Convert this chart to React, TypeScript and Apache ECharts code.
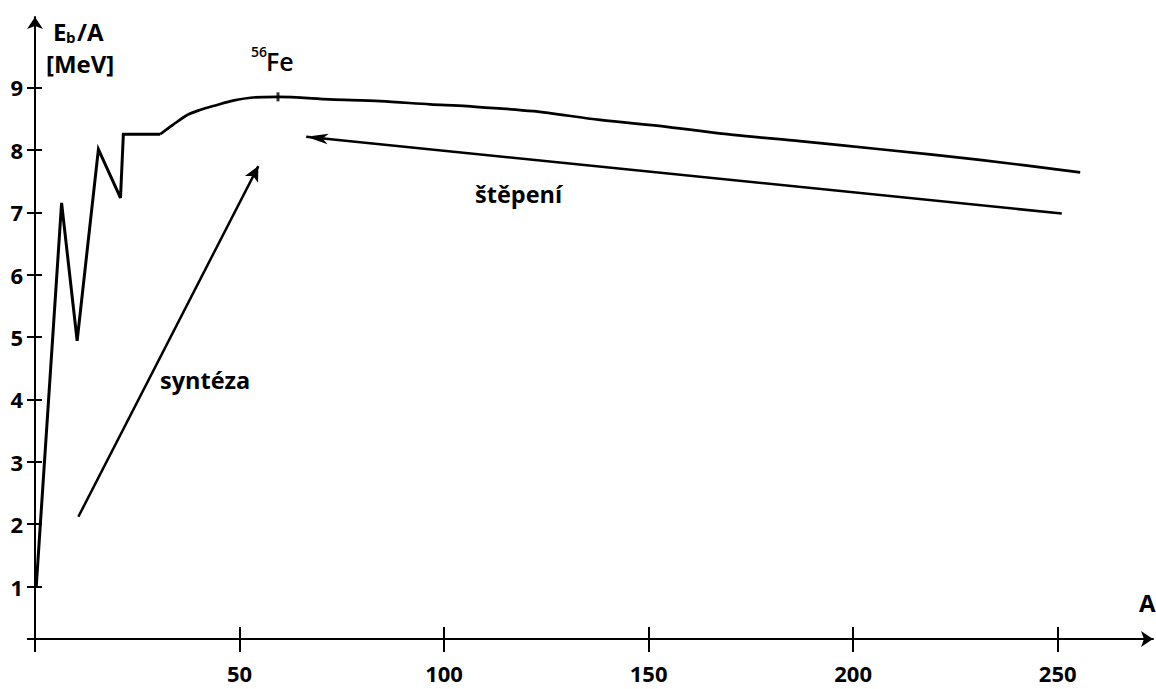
import React, { useEffect, useRef } from "react";
import * as echarts from "echarts";

// Binding energy per nucleon curve (A, Eb/A in MeV)
const lightA = [0.3, 6.5, 10.3, 15.5, 20.9, 21.6, 30.6];
const lightE = [1.0, 7.15, 4.94, 8.01, 7.23, 8.25, 8.25];
const heavyA = [30.6, 33.7, 37.2, 40.3, 44.5, 48.4, 53.3, 59.4, 72.1, 84.4, 96.6, 105.6, 121.8, 138.1, 154.5, 170.7, 187.0, 206.6, 231, 255.5];
const heavyE = [8.25, 8.4, 8.56, 8.64, 8.72, 8.79, 8.84, 8.85, 8.81, 8.78, 8.73, 8.7, 8.62, 8.48, 8.37, 8.24, 8.14, 8.01, 7.84, 7.64];
const ironPoint = [59.4, 8.85];
const synthesisArrow = [[10.6, 2.12], [54.6, 7.74]];
const fissionArrow = [[251, 6.98], [66.3, 8.21]];
const xTicks = [0, 50, 100, 150, 200, 250];
const xLabels = [50, 100, 150, 200, 250];
const yTicks = [1, 2, 3, 4, 5, 6, 7, 8, 9];

const X_MIN = 0;
const X_MAX = 273.3;
const Y_MIN = 0.16;
const Y_MAX = 10.13;

const FONT = "'Open Sans', 'Noto Sans', sans-serif";

export default function App() {
  const ref = useRef<HTMLDivElement>(null);
  useEffect(() => {
    document.body.style.margin = "0";
    const chart = echarts.init(ref.current!, null, { renderer: "svg" });
    const lineColor = "#000";
    const baseLabel = { color: "#000", fontFamily: FONT, fontWeight: "bold" as const };
    const option: any = {
      animation: false,
      backgroundColor: "#fff",
      grid: { left: 35, right: 3, top: 17, bottom: 50, containLabel: false },
      xAxis: [
        {
          type: "value",
          min: X_MIN,
          max: X_MAX,
          splitLine: { show: false },
          axisLine: { show: true, lineStyle: { color: lineColor, width: 2 }, symbol: ["none", "arrow"], symbolSize: [12, 12] },
          axisTick: { show: true, inside: false, length: 13, lineStyle: { color: lineColor, width: 2 }, customValues: xTicks },
          axisLabel: { ...baseLabel, fontSize: 22, margin: 23, customValues: xLabels },
        },
        {
          type: "value",
          min: X_MIN,
          max: X_MAX,
          position: "bottom",
          splitLine: { show: false },
          axisLine: { show: false },
          axisTick: { show: true, inside: true, length: 12, lineStyle: { color: lineColor, width: 2 }, customValues: xTicks },
          axisLabel: { show: false },
        },
      ],
      yAxis: [
        {
          type: "value",
          min: Y_MIN,
          max: Y_MAX,
          splitLine: { show: false },
          axisLine: { show: true, lineStyle: { color: lineColor, width: 2 }, symbol: ["none", "arrow"], symbolSize: [12, 12] },
          axisTick: { show: true, inside: false, length: 8, lineStyle: { color: lineColor, width: 2 }, customValues: [Y_MIN, ...yTicks] },
          axisLabel: { ...baseLabel, fontSize: 22, margin: 12, customValues: yTicks },
        },
        {
          type: "value",
          min: Y_MIN,
          max: Y_MAX,
          position: "left",
          splitLine: { show: false },
          axisLine: { show: false },
          axisTick: { show: true, inside: true, length: 7, lineStyle: { color: lineColor, width: 2 }, customValues: yTicks },
          axisLabel: { show: false },
        },
      ],
      series: [
        {
          type: "line",
          data: lightA.map((a, i) => [a, lightE[i]]),
          showSymbol: false,
          symbol: "none",
          lineStyle: { color: lineColor, width: 3, join: "miter", miterLimit: 10 },
          silent: true,
          clip: false,
        },
        {
          type: "line",
          data: heavyA.map((a, i) => [a, heavyE[i]]),
          showSymbol: false,
          symbol: "none",
          smooth: 0.3,
          lineStyle: { color: lineColor, width: 2.7 },
          silent: true,
          clip: false,
          markLine: {
            silent: true,
            symbol: ["none", "arrow"],
            symbolSize: [10, 14],
            label: { show: false },
            lineStyle: { color: lineColor, width: 2.5, type: "solid" },
            data: [
              [
                { coord: synthesisArrow[0], symbol: "none" },
                { coord: synthesisArrow[1], symbol: "arrow", symbolSize: [11, 15] },
              ],
              [
                { coord: fissionArrow[0], symbol: "none" },
                { coord: fissionArrow[1], symbol: "arrow", symbolSize: [8, 22] },
              ],
            ],
          },
        },
        {
          type: "scatter",
          data: [ironPoint],
          symbol: "rect",
          symbolSize: [3, 9],
          itemStyle: { color: lineColor },
          silent: true,
        },
      ],
      graphic: [
        { type: "text", left: 53, top: 19, style: { text: "E", fill: "#000", font: `bold 24px ${FONT}` } },
        { type: "text", left: 66, top: 29, style: { text: "b", fill: "#000", font: `bold 15px ${FONT}` } },
        { type: "text", left: 77, top: 19, style: { text: "/A", fill: "#000", font: `bold 24px ${FONT}` } },
        { type: "text", left: 46, top: 51, style: { text: "[MeV]", fill: "#000", font: `bold 24px ${FONT}` } },
        { type: "text", left: 251, top: 44, style: { text: "56", fill: "#000", font: `600 14px ${FONT}` } },
        { type: "text", left: 266, top: 48, style: { text: "Fe", fill: "#000", font: `600 25px ${FONT}` } },
        { type: "text", left: 160, top: 368, style: { text: "syntéza", fill: "#000", font: `bold 23.5px ${FONT}` } },
        { type: "text", left: 475, top: 182, style: { text: "štěpení", fill: "#000", font: `bold 23.5px ${FONT}` } },
        { type: "text", left: 1139, top: 590, style: { text: "A", fill: "#000", font: `bold 24px ${FONT}` } },
      ],
    };
    chart.setOption(option);
    return () => chart.dispose();
  }, []);
  return <div ref={ref} style={{ position: "fixed", left: 0, top: 0, width: 1156, height: 689 }} />;
}
